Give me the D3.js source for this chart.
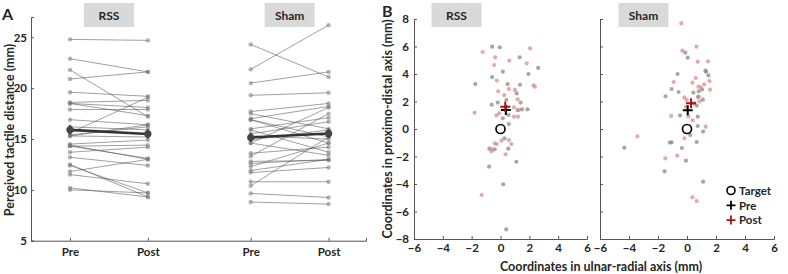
<!DOCTYPE html>
<html>
<head>
<meta charset="utf-8">
<script src='https://d3js.org/d3.v7.min.js'></script>
<style>
body { margin: 0; background: #fff; }
text { font-family: Lato, 'Open Sans', sans-serif; font-weight: bold; fill: #262626; }
</style>
</head>
<body>
<svg width="788" height="274"></svg>
<script>

// Panel A - perceived distance, [pre, post] per subject
var rssPairs = [
  [24.8, 24.7], [22.9, 21.6], [21.8, 17.2], [20.9, 21.6], [19.6, 19.2],
  [18.6, 18.8], [18.5, 18.1], [18.5, 17.3], [17.9, 17.9], [16.9, 16.4],
  [16.2, 15.9], [15.6, 19.1], [15.4, 16.2], [15.3, 15.2], [15.3, 16.4],
  [14.5, 14.9], [14.4, 13.0], [14.3, 13.1], [14.3, 14.4], [13.7, 14.2],
  [13.2, 12.4], [12.5, 9.3], [12.4, 9.7], [11.8, 13.0], [11.5, 10.6],
  [10.2, 9.3], [10.0, 9.7]
];
var shamPairs = [
  [24.3, 21.1], [21.85, 26.2], [20.5, 21.6], [19.3, 19.55], [17.7, 18.5],
  [17.5, 16.0], [17.0, 18.2], [16.9, 15.2], [16.9, 14.6], [16.0, 17.1],
  [15.9, 13.7], [15.5, 16.7], [15.3, 15.0], [14.9, 15.9], [14.6, 13.4],
  [14.6, 18.1], [13.6, 14.2], [13.3, 17.5], [12.8, 12.9], [12.6, 13.0],
  [12.3, 14.6], [11.9, 13.0], [11.7, 12.2], [10.8, 10.8], [10.4, 15.2],
  [9.65, 9.25], [8.8, 8.6]
];
var rssMean = [15.9, 15.5];
var shamMean = [15.15, 15.55];
var meanErr = [0.45, 0.45];

var groupNames = ["RSS", "Sham"];
var tickPos = [1, 2, 3.32, 4.32];
var tickNames = ["Pre", "Post", "Pre", "Post"];
var yTicksA = [5, 10, 15, 20, 25];

// Panel B - localisation, [ulnar-radial, proximo-distal]
var rssPre = [
  [-0.58, 5.99], [-0.05, 5.94], [1.33, 5.21], [1.94, 4.0], [2.61, 4.44],
  [0.16, 4.17], [-0.58, 3.78], [-1.75, 3.27], [0.49, 3.27], [1.35, 3.22],
  [1.12, 2.59], [0.4, 2.11], [-0.19, 1.92], [-0.61, 1.77], [1.4, 1.92],
  [1.49, 1.43], [1.87, 1.43], [0.56, 1.02], [0.58, 0.36], [0.16, 0.78],
  [0.28, -0.68], [-0.4, -1.48], [-0.77, -1.43], [0.54, -1.43], [1.1, -2.38],
  [-0.79, -2.74], [0.19, -4.02], [0.4, -7.3], [1.19, 1.38]
];
var rssPost = [
  [-1.24, 5.6], [2.05, 5.87], [-0.37, 5.21], [0.61, 4.97], [-0.44, 4.65],
  [1.82, 4.78], [-0.26, 3.52], [2.29, 3.18], [2.38, 3.08], [-0.16, 2.74],
  [0.58, 2.91], [1.0, 2.84], [0.26, 2.47], [1.19, 2.16], [-1.8, 1.19],
  [0.93, 1.58], [-0.09, 1.14], [-0.28, 0.99], [0.93, 0.9], [1.21, 0.9],
  [1.28, 1.38], [0.07, -0.85], [0.58, -0.8], [0.75, -1.09], [-0.4, -1.04],
  [-0.58, -1.48], [-0.26, -1.09], [-0.63, -1.62], [0.35, -1.84], [-1.31, -4.8]
];
var shamPre = [
  [-0.12, 5.55], [0.05, 5.19], [-0.65, 4.0], [1.32, 4.17], [1.48, 3.9],
  [-1.06, 2.91], [-0.58, 2.69], [0.44, 2.64], [0.81, 2.74], [1.04, 2.88],
  [-1.48, 2.38], [0.76, 2.33], [1.09, 2.13], [0.67, 1.7], [0.48, 1.87],
  [-0.48, 0.99], [0.74, 0.9], [0.74, 0.22], [0.23, -0.44], [1.11, -0.19],
  [-1.06, -0.97], [-1.18, -0.99], [0.67, -0.95], [-0.35, -1.38], [-4.32, -1.36],
  [-0.07, -2.3], [-1.55, -3.08], [1.11, -3.83], [1.27, 4.24]
];
var shamPost = [
  [-0.39, 7.68], [0.65, 5.99], [-0.32, 5.7], [0.74, 4.9], [1.45, 4.92],
  [0.6, 3.71], [-0.92, 3.42], [1.18, 3.25], [1.55, 3.49], [0.79, 3.08],
  [0.95, 3.03], [1.59, 2.86], [0.37, 3.37], [-0.18, 2.3], [-0.02, 2.11],
  [0.81, 2.35], [0.85, 2.01], [-1.09, 0.95], [0.09, 0.92], [0.39, 0.63],
  [1.29, 0.17], [-3.42, -0.53], [-0.18, -0.68], [-0.67, -1.94], [-1.5, -2.13],
  [0.37, -4.97], [0.67, -5.24], [-0.07, 1.62]
];
var rssCentroids = [[0.37, 1.38], [0.33, 1.62]];   // pre, post
var shamCentroids = [[0.05, 1.36], [0.28, 1.87]];
var target = [0, 0];
var ticksB = [-8, -6, -4, -2, 0, 2, 4, 6, 8];
var ticksBx = [-6, -4, -2, 0, 2, 4, 6];
var legendKeys = ["Target", "Pre", "Post"];

var svg = d3.select("svg");
var axisColor = "#555";

function styleAxis(g) {
  g.select(".domain").attr("stroke", axisColor);
  g.selectAll(".tick line").attr("stroke", axisColor);
  g.selectAll(".tick text").style("font-size", "11.5px").attr("fill", "#262626");
}

function titleBox(cx, label) {
  svg.append("rect")
    .attr("x", cx - 25).attr("y", 3).attr("width", 50).attr("height", 24)
    .attr("fill", "#d9d9d9");
  svg.append("text")
    .attr("x", cx).attr("y", 19.5)
    .attr("text-anchor", "middle")
    .style("font-size", "12px")
    .text(label);
}

// ---------- Panel A ----------
var xA = d3.scaleLinear().domain([0.5, 4.8]).range([31, 366]);
var yA = d3.scaleLinear().domain([5, 27]).range([240.7, 17]);

svg.append("g")
  .attr("transform", "translate(0,240.7)")
  .call(d3.axisBottom(xA).tickValues(tickPos).tickSize(-3).tickPadding(7)
    .tickFormat(function (d, i) { return tickNames[i]; }))
  .call(styleAxis);

svg.append("g")
  .attr("transform", "translate(31,0)")
  .call(d3.axisLeft(yA).tickValues(yTicksA).tickSize(-3).tickPadding(4))
  .call(styleAxis);

var groupsA = [
  { pairs: rssPairs, mean: rssMean, pos: [tickPos[0], tickPos[1]] },
  { pairs: shamPairs, mean: shamMean, pos: [tickPos[2], tickPos[3]] }
];

groupsA.forEach(function (grp, gi) {
  var g = svg.append("g");
  g.selectAll(".pair").data(grp.pairs).enter().append("line")
    .attr("x1", xA(grp.pos[0])).attr("x2", xA(grp.pos[1]))
    .attr("y1", function (d) { return yA(d[0]); })
    .attr("y2", function (d) { return yA(d[1]); })
    .attr("stroke", "#555").attr("stroke-opacity", 0.7).attr("stroke-width", 0.8);
  [0, 1].forEach(function (k) {
    g.selectAll(".dot" + k).data(grp.pairs).enter().append("circle")
      .attr("cx", xA(grp.pos[k]))
      .attr("cy", function (d) { return yA(d[k]); })
      .attr("r", 2.2)
      .attr("fill", "#777").attr("fill-opacity", 0.55);
  });
  // mean line + error bars
  g.append("line")
    .attr("x1", xA(grp.pos[0])).attr("x2", xA(grp.pos[1]))
    .attr("y1", yA(grp.mean[0])).attr("y2", yA(grp.mean[1]))
    .attr("stroke", "#333").attr("stroke-width", 2.6);
  [0, 1].forEach(function (k) {
    g.append("line")
      .attr("x1", xA(grp.pos[k])).attr("x2", xA(grp.pos[k]))
      .attr("y1", yA(grp.mean[k] - meanErr[k])).attr("y2", yA(grp.mean[k] + meanErr[k]))
      .attr("stroke", "#333").attr("stroke-width", 1.5);
    g.append("circle")
      .attr("cx", xA(grp.pos[k])).attr("cy", yA(grp.mean[k]))
      .attr("r", 3.6).attr("fill", "#444");
  });
  titleBox((xA(grp.pos[0]) + xA(grp.pos[1])) / 2, groupNames[gi]);
});

svg.append("text")
  .attr("text-anchor", "middle")
  .attr("transform", "translate(13.5,130)rotate(-90)")
  .style("font-size", "12.5px")
  .text("Perceived tactile distance (mm)");

svg.append("text").attr("x", 2).attr("y", 20).style("font-size", "16px").attr("fill", "#111").text("A");

// ---------- Panel B ----------
var yB = d3.scaleLinear().domain([-8, 8]).range([239, 19]);
var xBs = [
  d3.scaleLinear().domain([-6, 6]).range([414, 587]),
  d3.scaleLinear().domain([-6, 6]).range([600, 774])
];
var groupsB = [
  { pre: rssPre, post: rssPost, c: rssCentroids },
  { pre: shamPre, post: shamPost, c: shamCentroids }
];
var preColor = "#8a8a8a", postColor = "#d98e8e";

function plus(g, x, y, color) {
  g.append("path")
    .attr("d", "M" + (x - 5) + "," + y + "H" + (x + 5) + "M" + x + "," + (y - 5) + "V" + (y + 5))
    .attr("stroke", color).attr("stroke-width", 2).attr("fill", "none");
}

groupsB.forEach(function (grp, gi) {
  var xB = xBs[gi];
  var g = svg.append("g");
  g.append("g")
    .attr("transform", "translate(0,239)")
    .call(d3.axisBottom(xB).tickValues(ticksBx).tickSize(-3).tickPadding(5))
    .call(styleAxis);
  var ya = d3.axisLeft(yB).tickValues(ticksB).tickSize(-3).tickPadding(5);
  if (gi == 1) ya.tickFormat("");
  g.append("g")
    .attr("transform", "translate(" + xB.range()[0] + ",0)")
    .call(ya)
    .call(styleAxis);

  g.selectAll(".pre").data(grp.pre).enter().append("circle")
    .attr("cx", function (d) { return xB(d[0]); })
    .attr("cy", function (d) { return yB(d[1]); })
    .attr("r", 2.1).attr("fill", preColor).attr("fill-opacity", 0.75);
  g.selectAll(".post").data(grp.post).enter().append("circle")
    .attr("cx", function (d) { return xB(d[0]); })
    .attr("cy", function (d) { return yB(d[1]); })
    .attr("r", 2.1).attr("fill", postColor).attr("fill-opacity", 0.75);

  g.append("circle")
    .attr("cx", xB(target[0])).attr("cy", yB(target[1]))
    .attr("r", 4.5).attr("fill", "none").attr("stroke", "#000").attr("stroke-width", 1.7);
  plus(g, xB(grp.c[0][0]), yB(grp.c[0][1]), "#000");
  plus(g, xB(grp.c[1][0]), yB(grp.c[1][1]), "#b01010");

  titleBox(gi == 0 ? 456.5 : 643.5, groupNames[gi]);
});

svg.append("text")
  .attr("text-anchor", "middle")
  .attr("transform", "translate(392,129)rotate(-90)")
  .style("font-size", "12.5px")
  .text("Coordinates in proximo-distal axis (mm)");

svg.append("text")
  .attr("x", 601).attr("y", 271)
  .attr("text-anchor", "middle")
  .style("font-size", "12.5px")
  .text("Coordinates in ulnar-radial axis (mm)");

svg.append("text").attr("x", 382).attr("y", 17).style("font-size", "16px").attr("fill", "#111").text("B");

// Legend
var legend = svg.selectAll(".lg").data(legendKeys).enter().append("g")
  .attr("transform", function (d, i) { return "translate(731," + (190.5 + i * 14.8) + ")"; });
legend.each(function (d, i) {
  var g = d3.select(this);
  if (i == 0) {
    g.append("circle").attr("r", 4).attr("fill", "none").attr("stroke", "#000").attr("stroke-width", 1.6);
  } else {
    g.append("path").attr("d", "M-4.5,0H4.5M0,-4.5V4.5")
      .attr("stroke", i == 1 ? "#000" : "#b01010").attr("stroke-width", 1.8);
  }
  g.append("text").attr("x", 8).attr("y", 4.2).style("font-size", "11.5px").text(d);
});

</script>
</body>
</html>
